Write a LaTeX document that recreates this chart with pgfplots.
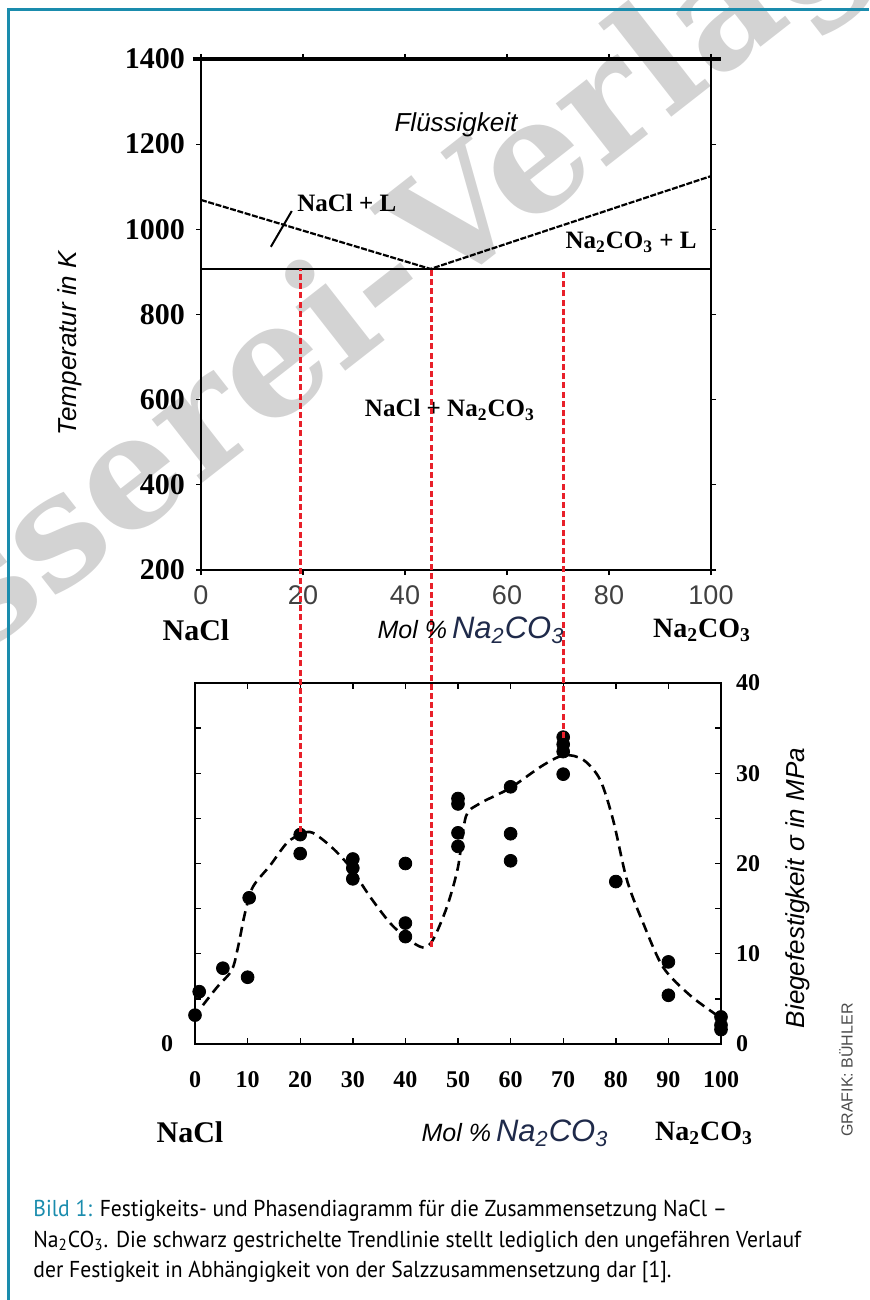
\documentclass[border=0pt]{standalone}
\usepackage{pgfplots}
\pgfplotsset{compat=1.18}
\usepackage{fontspec}
\setmainfont{Liberation Serif}
\newfontfamily\lsans{Liberation Sans}
\newfontfamily\capfont[FakeStretch=0.94]{PT Sans}
\newfontfamily\wmfont{DejaVu Serif}
\definecolor{teal1}{HTML}{1A8CAD}
\definecolor{wm}{HTML}{D3D3D3}
\definecolor{myred}{HTML}{E8202A}
\definecolor{navy}{HTML}{1F2A4A}
\begin{document}
\begin{tikzpicture}
\begin{scope}[x=0.5pt,y=-0.5pt]
\path[use as bounding box] (0,0) rectangle (869,1300);
% watermark
\begin{scope}
\clip (0,0) rectangle (869,1300);
\node[rotate=38, anchor=base east, inner sep=0, text=wm, font=\wmfont\bfseries\fontsize{78}{78}\selectfont] at (440,298) {Giesserei-};
\node[rotate=38, anchor=base west, inner sep=0, text=wm, font=\wmfont\bfseries\fontsize{78}{78}\selectfont] at (440,298) {Verlag};
\end{scope}
% frame
\draw[teal1, line width=1.5pt] (8,1300) -- (8,10) -- (869,10);
\end{scope}

% ---------- top: phase diagram ----------
\begin{axis}[at={(100.5pt,-285pt)}, anchor=south west, scale only axis,
  width=255pt, height=255.5pt,
  xmin=0, xmax=100, ymin=200, ymax=1400,
  xtick={0,20,...,100}, ytick={200,400,...,1400},
  xtick pos=both, ytick pos=both,
  tick align=outside, major tick length=2.5pt,
  axis line style={line width=0.8pt},
  tick style={line width=0.6pt, black},
  clip=false,
  /pgf/number format/assume math mode=true,
  /pgf/number format/1000 sep={},
  scaled ticks=false,
  yticklabel style={font=\bfseries\fontsize{15}{15}\selectfont, xshift=-2pt},
  xticklabel style={font=\lsans\fontsize{13.5}{13.5}\selectfont, text=black!75, yshift=-2pt},
]
\addplot[line width=1.6pt] coordinates {(-1.6,1400) (102,1400)};
\addplot[line width=1.1pt] coordinates {(0,907) (100,907)};
\addplot[line width=1.1pt, dash pattern=on 3pt off 0.8pt] coordinates {(0,1069) (45,907) (100,1125)};
\draw[line width=1pt] (axis cs:13.7,959) -- (axis cs:17.8,1043);
\node[font=\lsans\itshape\fontsize{13}{13}\selectfont] at (axis cs:50,1245) {Flüssigkeit};
\node[anchor=west, inner sep=0, font=\bfseries\fontsize{12.5}{12.5}\selectfont] at (axis cs:18.8,1062) {NaCl + L};
\node[anchor=west, inner sep=0, font=\bfseries\fontsize{12.5}{12.5}\selectfont] at (axis cs:71.4,970) {Na\textsubscript{2}CO\textsubscript{3} + L};
\node[font=\bfseries\fontsize{12.5}{12.5}\selectfont] at (axis cs:48.8,576) {NaCl + Na\textsubscript{2}CO\textsubscript{3}};
\coordinate (eut) at (axis cs:45,907);
\end{axis}

% ---------- bottom: strength ----------
\begin{axis}[at={(97.5pt,-522pt)}, anchor=south west, scale only axis,
  width=263pt, height=180.5pt,
  xmin=0, xmax=100, ymin=0, ymax=40,
  xtick={0,10,...,100}, ytick={0,10,...,40}, minor ytick={5,15,25,35},
  yticklabel pos=right, xtick pos=both, ytick pos=both,
  tick align=inside, major tick length=3pt, minor tick length=3pt,
  axis line style={line width=0.9pt},
  tick style={line width=0.7pt, black},
  clip=false,
  /pgf/number format/assume math mode=true,
  ticklabel style={font=\bfseries\fontsize{12}{12}\selectfont},
  xticklabel style={yshift=-10pt},
  yticklabel style={xshift=4pt},
]
\addplot[black, line width=1.3pt, dash pattern=on 5pt off 3pt, smooth, tension=0.5] coordinates {
(1.5,4.3) (4.2,6.3) (7,8.2) (8.2,10.8) (9.5,14.5) (11,17.4) (14.3,19.8) (17.5,22.3)
(20.3,23.3) (22.4,23.4) (26,21.8) (29.5,19.6) (33.3,16.3) (37.1,13.4) (40.3,11.7)
(43.3,10.7) (45.2,11.5) (47.9,15.2) (50,19.6) (51.5,25.2) (54,26.6) (57.4,27.6)
(60.3,28.5) (66.2,30.9) (70.2,32) (73.8,31.5) (77,29.3) (79.5,24.8) (82.1,18.2)
(85.2,13.4) (89,8.5) (94.1,5.4) (99.2,3.2)};
\addplot[only marks, mark=*, mark size=3.2pt, black] coordinates {
(0,3.2) (0.8,5.8) (5.3,8.4) (10,7.4) (10.3,16.2) (20,21.1) (20,23.2)
(30,20.5) (30,19.5) (30,18.3) (40,20) (40,13.4) (40,11.9)
(50,27.2) (50,26.6) (50,23.4) (50,21.9) (60,28.5) (60,23.3) (60,20.3)
(70,34) (70,33.2) (70,32.4) (70,29.9) (80,18) (90,9.1) (90,5.4)
(100,3.0) (100,2.1) (100,1.6)};
\node[font=\bfseries\fontsize{12}{12}\selectfont] at (rel axis cs:-0.053,0) {0};
\coordinate (b1) at (axis cs:20,23.5);
\coordinate (b2) at (axis cs:45,10.7);
\coordinate (b3) at (axis cs:70,33.9);
\end{axis}

% red guide lines
\draw[myred, line width=1.4pt, dash pattern=on 3pt off 1.6pt] (b1) -- (b1 |- eut);
\draw[myred, line width=1.4pt, dash pattern=on 3pt off 1.6pt] (b2) -- (b2 |- eut);
\draw[myred, line width=1.4pt, dash pattern=on 3pt off 1.6pt] (b3) -- (b3 |- eut);

\begin{scope}[x=0.5pt,y=-0.5pt]
% axis titles
\node[rotate=90, font=\lsans\itshape\fontsize{13}{13}\selectfont] at (70,343) {Temperatur in K};
\node[rotate=90, font=\lsans\itshape\fontsize{13}{13}\selectfont] at (798,888) {Biegefestigkeit σ in MPa};

\node[font=\bfseries\fontsize{15}{15}\selectfont] at (196,630) {NaCl};
\node at (471,630) {{\lsans\itshape\fontsize{12.5}{12.5}\selectfont Mol \%} {\lsans\itshape\fontsize{15.5}{15.5}\selectfont\color{navy}Na\textsubscript{2}CO\textsubscript{3}}};
\node[font=\bfseries\fontsize{14}{14}\selectfont] at (702,630) {Na\textsubscript{2}CO\textsubscript{3}};

\node[font=\bfseries\fontsize{15}{15}\selectfont] at (190,1132) {NaCl};
\node at (515,1133) {{\lsans\itshape\fontsize{12.5}{12.5}\selectfont Mol \%} {\lsans\itshape\fontsize{15.5}{15.5}\selectfont\color{navy}Na\textsubscript{2}CO\textsubscript{3}}};
\node[font=\bfseries\fontsize{14}{14}\selectfont] at (704,1133) {Na\textsubscript{2}CO\textsubscript{3}};

\node[rotate=90, font=\lsans\fontsize{8}{8}\selectfont, text=black!70] at (846,1070) {GRAFIK: BÜHLER};

% caption
\node[anchor=base west, inner sep=0, font=\capfont\fontsize{11.5}{11.5}\selectfont] at (33,1216) {\textcolor{teal1}{Bild 1:} Festigkeits- und Phasendiagramm für die Zusammensetzung NaCl –};
\node[anchor=base west, inner sep=0, font=\capfont\fontsize{11.5}{11.5}\selectfont] at (33,1247) {Na\textsubscript{2}CO\textsubscript{3}. Die schwarz gestrichelte Trendlinie stellt lediglich den ungefähren Verlauf};
\node[anchor=base west, inner sep=0, font=\capfont\fontsize{11.5}{11.5}\selectfont] at (33,1277) {der Festigkeit in Abhängigkeit von der Salzzusammensetzung dar [1].};
\end{scope}
\end{tikzpicture}
\end{document}
